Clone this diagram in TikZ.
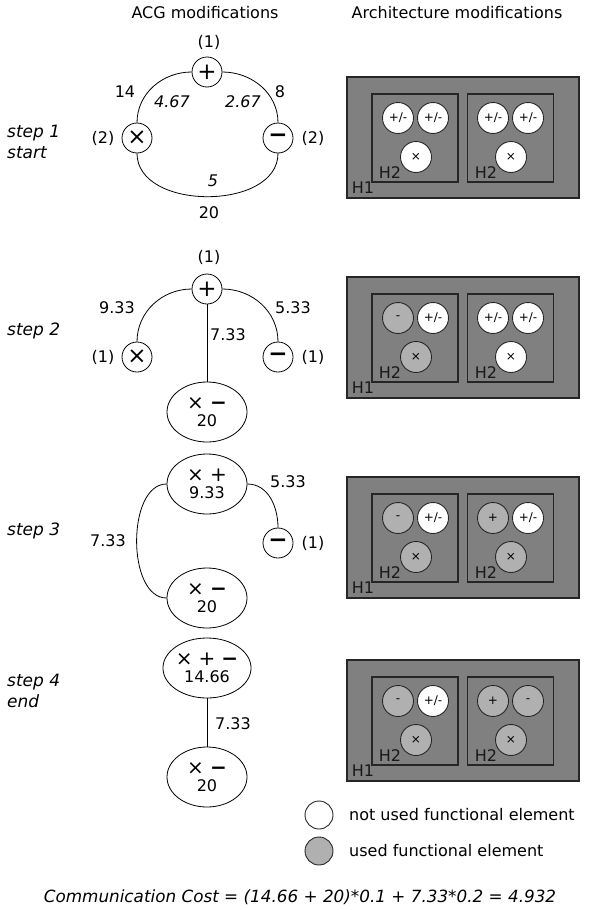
\documentclass[tikz,border=0pt]{standalone}
\usepackage{fontspec}
\setmainfont{DejaVu Sans}
\usetikzlibrary{shapes.geometric}
\definecolor{boardgray}{HTML}{808080}
\definecolor{usedgray}{HTML}{B0B0B0}

\tikzset{
  txt/.style={font=\fontsize{16}{20}\selectfont, inner sep=1pt},
  txti/.style={txt, font=\fontsize{16}{20}\selectfont\itshape},
  steptag/.style={txti, anchor=west, align=left, font=\fontsize{17}{21}\selectfont\itshape},
  op/.style={circle, draw, line width=0.8pt, minimum size=30pt, inner sep=0pt, font=\fontsize{23}{23}\selectfont},
  group/.style={ellipse, draw, line width=0.8pt, minimum width=80pt, minimum height=60pt,
    inner sep=0pt, align=center, font=\fontsize{16}{17}\selectfont},
  edge/.style={line width=0.8pt},
  hone/.style={draw=black!85, fill=boardgray, line width=1.3pt, minimum width=232pt, minimum height=121pt},
  htwo/.style={draw=black!85, line width=1.3pt, minimum width=86pt, minimum height=88pt},
  hlabel/.style={txt, text=black!90},
  fe/.style={circle, draw=black!85, fill=white, line width=0.9pt, minimum size=31pt, inner sep=0pt,
    font=\fontsize{12}{12}\selectfont},
  ue/.style={fe, fill=usedgray}
}
\newcommand{\sym}[1]{{\fontsize{20}{17}\selectfont #1}}
\newcommand{\mn}{\textbf{−}}

\begin{document}
\begin{tikzpicture}[x=1pt, y=1pt]
  \useasboundingbox (0,0) rectangle (589,-910);

  % column titles
  \node[txt] (acgtitle) at (205,-13) {ACG modifications};
  \node[txt] (archtitle) at (457,-13) {Architecture modifications};

  % step names
  \node[steptag] (tag1) at (6,-141.5) {step 1\\start};
  \node[steptag] (tag2) at (6,-331) {step 2};
  \node[steptag] (tag3) at (6,-531) {step 3};
  \node[steptag] (tag4) at (6,-690.5) {step 4\\end};

  % step 1: three operations on a ring
  \node[op] (s1p) at (207,-72) {+};
  \node[op] (s1x) at (137,-138) {×};
  \node[op] (s1m) at (278,-138) {\mn};
  \draw[edge] (s1p.west) to[out=180, in=90] (s1x.north);
  \draw[edge] (s1p.east) to[out=0, in=90] (s1m.north);
  \draw[edge] (s1x.south) to[out=-90, in=-90, looseness=1.05] (s1m.south);
  \node[txt] (c1p) at (209,-42) {(1)};
  \node[txt] (c1x) at (103,-138) {(2)};
  \node[txt] (c1m) at (313,-138) {(2)};
  \node[txt] (w1a) at (125,-92) {14};
  \node[txti] (w1b) at (172,-102) {4.67};
  \node[txti] (w1c) at (243,-102) {2.67};
  \node[txt] (w1d) at (280,-92) {8};
  \node[txti] (w1e) at (213,-181) {5};
  \node[txt] (w1f) at (209,-213) {20};

  % step 2: x and - merged
  \node[op] (s2p) at (207,-289) {+};
  \node[op] (s2x) at (137,-357) {×};
  \node[op] (s2m) at (278,-357) {\mn};
  \node[group] (s2g) at (207,-412) {\sym{×\hspace{6pt}\mn}\\20};
  \draw[edge] (s2p.west) to[out=180, in=90] (s2x.north);
  \draw[edge] (s2p.east) to[out=0, in=90] (s2m.north);
  \draw[edge] (s2p) -- (s2g);
  \node[txt] (c2p) at (209,-257) {(1)};
  \node[txt] (c2x) at (103,-357) {(1)};
  \node[txt] (c2m) at (313,-357) {(1)};
  \node[txt] (w2a) at (117,-308) {9.33};
  \node[txt] (w2b) at (293,-308) {5.33};
  \node[txt] (w2c) at (228,-335) {7.33};

  % step 3: x and + merged
  \node[group] (s3a) at (207,-484) {\sym{×\hspace{6pt}+}\\9.33};
  \node[op] (s3m) at (278,-543) {\mn};
  \node[group] (s3b) at (207,-598) {\sym{×\hspace{6pt}\mn}\\20};
  \draw[edge] (s3a.east) to[out=0, in=90] (s3m.north);
  \draw[edge] (s3a.west) to[out=180, in=180, looseness=0.9] (s3b.west);
  \node[txt] (c3m) at (313,-543) {(1)};
  \node[txt] (w3a) at (288,-482) {5.33};
  \node[txt] (w3b) at (108,-541) {7.33};

  % step 4: final two groups
  \node[group] (s4a) at (207,-668) {\sym{×\hspace{6pt}+\hspace{6pt}\mn}\\14.66};
  \node[group] (s4b) at (207,-777) {\sym{×\hspace{6pt}\mn}\\20};
  \draw[edge] (s4a) -- (s4b);
  \node[txt] (w4a) at (233,-724) {7.33};

  % boards: H1 with two H2 clusters of functional elements
  \foreach \n/\t/\units in {
      1/77/{fe/{+/-}, fe/{+/-}, fe/×, fe/{+/-}, fe/{+/-}, fe/×},
      2/277/{ue/-, fe/{+/-}, ue/×, fe/{+/-}, fe/{+/-}, fe/×},
      3/477/{ue/-, fe/{+/-}, ue/×, ue/+, fe/{+/-}, ue/×},
      4/660/{ue/-, fe/{+/-}, ue/×, ue/+, ue/-, ue/×}}{
    \begin{scope}[shift={(0,-\t)}]
      \node[hone] (h1-\n) at (463,-60.5) {};
      \node[htwo] (h2a-\n) at (415,-61) {};
      \node[htwo] (h2b-\n) at (510.5,-61) {};
      \node[hlabel] (l1-\n) at (363,-111) {H1};
      \node[hlabel] (l2a-\n) at (390,-96) {H2};
      \node[hlabel] (l2b-\n) at (486,-96) {H2};
      \foreach \k/\x/\y in {1/398/41, 2/433/41, 3/416/80, 4/493/41, 5/528/41, 6/511/80}
        \coordinate (slot\k) at (\x,-\y);
      \foreach [count=\k] \st/\lab in \units
        \node[\st] (fu-\n-\k) at (slot\k) {\lab};
    \end{scope}
  }

  % legend
  \node[fe, minimum size=28pt] (keyfree) at (319,-815) {};
  \node[ue, minimum size=28pt] (keyused) at (319,-851) {};
  \node[txt, anchor=west] (keyfreetxt) at (348,-815) {not used functional element};
  \node[txt, anchor=west] (keyusedtxt) at (348,-851) {used functional element};

  % resulting cost
  \node[txti, font=\fontsize{16.8}{20}\selectfont\itshape] (cost) at (300,-897)
    {Communication Cost = (14.66 + 20)*0.1 + 7.33*0.2 = 4.932};
\end{tikzpicture}
\end{document}
